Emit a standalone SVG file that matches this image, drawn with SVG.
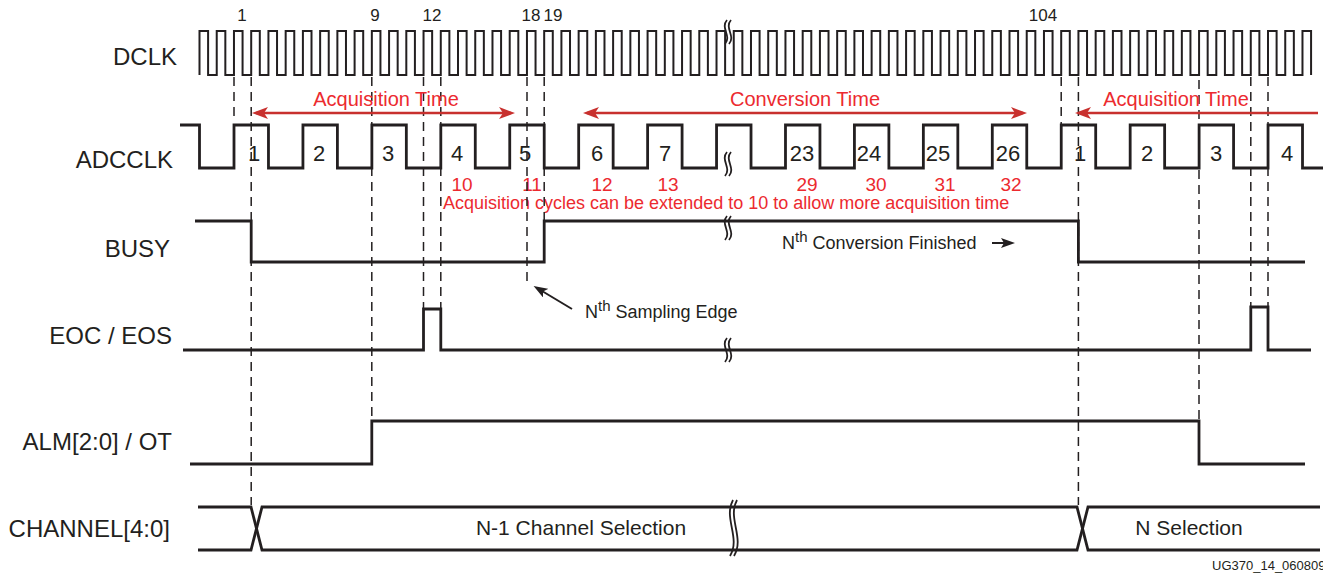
<svg xmlns="http://www.w3.org/2000/svg" width="1323" height="579" viewBox="0 0 1323 579">
<style>
.sig{fill:none;stroke:#231f20;stroke-width:2.8;stroke-linejoin:miter}
.clk{fill:none;stroke:#231f20;stroke-width:2}
.dash{fill:none;stroke:#231f20;stroke-width:1.5;stroke-dasharray:9 6}
.brk{fill:none;stroke:#231f20;stroke-width:1.8}
.lbl{font-family:"Liberation Sans",Arial,sans-serif;font-size:24px;fill:#231f20;text-anchor:end}
.num{font-family:"Liberation Sans",Arial,sans-serif;font-size:17px;fill:#231f20;text-anchor:middle}
.cyc{font-family:"Liberation Sans",Arial,sans-serif;font-size:22px;fill:#231f20;text-anchor:middle}
.red{font-family:"Liberation Sans",Arial,sans-serif;font-size:19px;fill:#ec2a2f;text-anchor:middle}
.rt{font-family:"Liberation Sans",Arial,sans-serif;font-size:20px;fill:#ec2a2f;text-anchor:middle}
.note{font-family:"Liberation Sans",Arial,sans-serif;font-size:18px;fill:#231f20}
.sel{font-family:"Liberation Sans",Arial,sans-serif;font-size:21px;fill:#231f20;text-anchor:middle}
.rarr{fill:none;stroke:#c8302e;stroke-width:2.5}
.barr{fill:none;stroke:#231f20;stroke-width:2}
</style>
<defs>
<marker id="ra" markerUnits="userSpaceOnUse" markerWidth="18" markerHeight="12" refX="12" refY="6" orient="auto-start-reverse">
<path d="M0,0 L16,6 L0,12 L4,6 Z" fill="#c8302e"/>
</marker>
<marker id="ba" markerUnits="userSpaceOnUse" markerWidth="16" markerHeight="10" refX="10" refY="5" orient="auto">
<path d="M0,0 L14,5 L0,10 L3,5 Z" fill="#231f20"/>
</marker>
<path id="sq" d="M3,0 C-4,8 8,16 1,24 M7,0 C0,8 12,16 5,24"/>
<path id="sqt" d="M4,0 C-6,18 12,38 1,56 M8,0 C-2,18 16,38 5,56"/>
</defs>

<g id="labels">
<text class="lbl" x="177" y="65">DCLK</text>
<text class="lbl" x="173" y="168">ADCCLK</text>
<text class="lbl" x="170" y="257">BUSY</text>
<text class="lbl" x="172" y="344">EOC / EOS</text>
<text class="lbl" x="172" y="450">ALM[2:0] / OT</text>
<text class="lbl" x="170" y="537">CHANNEL[4:0]</text>
</g>

<g id="dclk">
<path class="clk" d="M199.5,75
v-44 h8.6 v44 h8.634 v-44 h8.6 v44 h8.634 v-44 h8.6 v44 h8.634 v-44 h8.6 v44 h8.634 v-44 h8.6 v44 h8.634 v-44 h8.6 v44 h8.634 v-44 h8.6 v44 h8.634 v-44 h8.6 v44 h8.634
v-44 h8.6 v44 h8.634 v-44 h8.6 v44 h8.634 v-44 h8.6 v44 h8.634 v-44 h8.6 v44 h8.634 v-44 h8.6 v44 h8.634 v-44 h8.6 v44 h8.634 v-44 h8.6 v44 h8.634 v-44 h8.6 v44 h8.634
v-44 h8.6 v44 h8.634 v-44 h8.6 v44 h8.634 v-44 h8.6 v44 h8.634 v-44 h8.6 v44 h8.634 v-44 h8.6 v44 h8.634 v-44 h8.6 v44 h8.634 v-44 h8.6 v44 h8.634 v-44 h8.6 v44 h8.634
v-44 h8.6 v44 h8.634 v-44 h8.6 v44 h8.634 v-44 h8.6 v44 h8.634 v-44 h8.6 v44 h8.634 v-44 h8.6 v44 h8.634 v-44 h8.6 v44 h8.634 v-44 h8.6 v44 h8.634 v-44 h8.6 v44 h8.634
v-44 h8.6 v44 h8.634 v-44 h8.6 v44 h8.634 v-44 h8.6 v44 h8.634 v-44 h8.6 v44 h8.634 v-44 h8.6 v44 h8.634 v-44 h8.6 v44 h8.634 v-44 h8.6 v44 h8.634 v-44 h8.6 v44 h8.634
v-44 h8.6 v44 h8.634 v-44 h8.6 v44 h8.634 v-44 h8.6 v44 h8.634 v-44 h8.6 v44 h8.634 v-44 h8.6 v44 h8.634 v-44 h8.6 v44 h8.634 v-44 h8.6 v44 h8.634 v-44 h8.6 v44 h8.634
v-44 h8.6 v44 h8.634 v-44 h8.6 v44 h8.634 v-44 h8.6 v44 h8.634 v-44 h8.6 v44 h8.634 v-44 h8.6 v44 h8.634 v-44 h8.6 v44 h8.634 v-44 h8.6 v44 h8.634 v-44 h8.6 v44 h8.634
v-44 h8.6 v44 h8.634 v-44 h8.6 v44 h8.634 v-44 h8.6 v44 h8.634 v-44 h8.6 v44 h8.634 v-44 h8.6 v44 h8.634 v-44 h8.6 v44 h8.634 v-44 h8.6 v44 h8.634 v-44 h8.6 v44 h8.634
v-44 h8.6 v44"/>
<use href="#sq" class="brk" x="724" y="20"/>
<text class="num" x="242" y="21">1</text>
<text class="num" x="375" y="21">9</text>
<text class="num" x="432" y="21">12</text>
<text class="num" x="531" y="21">18</text>
<text class="num" x="553" y="21">19</text>
<text class="num" x="1043" y="21">104</text>
</g>

<g id="adcclk">
<path class="sig" d="M180,125 H199.5 V168 H234 V125 h34.468 v43 h34.468 v-43 h34.468 v43 h34.468 v-43 h34.468 v43 h34.468 v-43 h34.468 v43 h34.468 v-43 h34.468 v43 h34.468 v-43 h34.468 v43 h34.468 v-43 h34.468 v43 h34.468 v-43 h34.468 v43 h34.468 v-43 h34.468 v43 h34.468 v-43 h34.468 v43 h34.468 v-43 h34.468 v43 h34.468 v-43 h34.468 v43 h34.468 v-43 h34.468 v43 h34.468 v-43 h34.468 v43 h34.468 v-43 h34.468 v43 h34.468 v-43 h34.468 v43 h34.468 v-43 h34.468 v43"/>
<use href="#sq" class="brk" x="724" y="152"/>
<text class="cyc" x="254" y="161">1</text>
<text class="cyc" x="319" y="161">2</text>
<text class="cyc" x="388" y="161">3</text>
<text class="cyc" x="457" y="161">4</text>
<text class="cyc" x="525" y="161">5</text>
<text class="cyc" x="597" y="161">6</text>
<text class="cyc" x="665" y="161">7</text>
<text class="cyc" x="802" y="161">23</text>
<text class="cyc" x="869" y="161">24</text>
<text class="cyc" x="938" y="161">25</text>
<text class="cyc" x="1008" y="161">26</text>
<text class="cyc" x="1080" y="161">1</text>
<text class="cyc" x="1147" y="161">2</text>
<text class="cyc" x="1216" y="161">3</text>
<text class="cyc" x="1287" y="161">4</text>
<text class="red" x="462" y="191">10</text>
<text class="red" x="532" y="191">11</text>
<text class="red" x="602" y="191">12</text>
<text class="red" x="668" y="191">13</text>
<text class="red" x="807" y="191">29</text>
<text class="red" x="876" y="191">30</text>
<text class="red" x="945" y="191">31</text>
<text class="red" x="1011" y="191">32</text>
<text x="443" y="209" style="font-family:'Liberation Sans',Arial,sans-serif;font-size:18px;fill:#ec2a2f">Acquisition cycles can be extended to 10 to allow more acquisition time</text>
</g>

<g id="busy">
<path class="sig" d="M195,221 H251.2 V262 H544.2 V221 H1078.4 V262 H1305"/>
<use href="#sq" class="brk" x="724" y="216"/>
<text class="note" x="782" y="249">N<tspan dy="-7" font-size="15">th</tspan><tspan dy="7"> Conversion Finished</tspan></text>
</g>

<g id="eoc">
<path class="sig" d="M183,350 H423.5 V309 H440.8 V350 H1250.8 V307 H1268 V350 H1311"/>
<use href="#sq" class="brk" x="724" y="338"/>
<text class="note" x="585" y="318">N<tspan dy="-7" font-size="15">th</tspan><tspan dy="7"> Sampling Edge</tspan></text>
</g>

<g id="alm">
<path class="sig" d="M190,464 H371.8 V421 H1199 V464 H1305"/>
</g>

<g id="channel">
<path class="sig" d="M198,507 H251 L262,550 H1077 L1088,507 H1320"/>
<path class="sig" d="M198,550 H251 L262,507 H1077 L1088,550 H1320"/>
<use href="#sqt" class="brk" x="729" y="500"/>
<text class="sel" x="581" y="535">N-1 Channel Selection</text>
<text class="sel" x="1189" y="535">N Selection</text>
</g>

<g id="connectors">
<path class="dash" d="M234,77 V122"/>
<path class="dash" d="M251.2,77 V505"/>
<path class="dash" d="M371.8,77 V421"/>
<path class="dash" d="M423.5,77 V309"/>
<path class="dash" d="M440.8,77 V309"/>
<path class="dash" d="M527,77 V281"/>
<path class="dash" d="M544.2,77 V221"/>
<path class="dash" d="M1061.2,77 V124"/>
<path class="dash" d="M1078.4,77 V505"/>
<path class="dash" d="M1199,80 V421"/>
<path class="dash" d="M1250.8,77 V307"/>
<path class="dash" d="M1268,77 V307"/>
<line class="rarr" x1="256" y1="113" x2="511" y2="113" marker-start="url(#ra)" marker-end="url(#ra)"/>
<line class="rarr" x1="587" y1="113" x2="1023" y2="113" marker-start="url(#ra)" marker-end="url(#ra)"/>
<line class="rarr" x1="1079" y1="113" x2="1318" y2="113" marker-start="url(#ra)"/>
<line class="barr" x1="572" y1="309" x2="537" y2="288" marker-end="url(#ba)"/>
<line class="barr" x1="992" y1="243" x2="1011" y2="243" marker-end="url(#ba)"/>
<text class="rt" x="386" y="106">Acquisition Time</text>
<text class="rt" x="805" y="106">Conversion Time</text>
<text class="rt" x="1176" y="106">Acquisition Time</text>
</g>

<text x="1212" y="570" style="font-family:'Liberation Sans',Arial,sans-serif;font-size:13px;fill:#231f20">UG370_14_060809</text>
</svg>
